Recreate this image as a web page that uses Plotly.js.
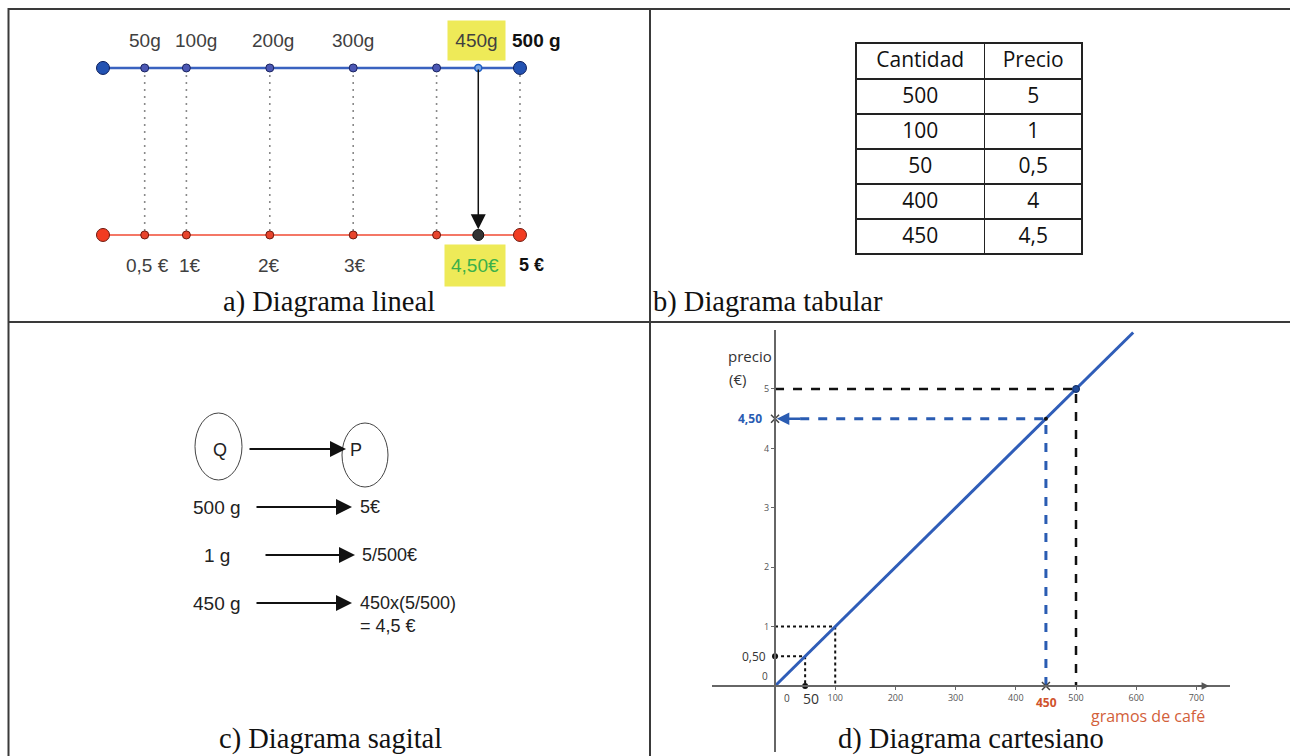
<!DOCTYPE html>
<html><head><meta charset="utf-8">
<script src="https://cdn.plot.ly/plotly-3.0.1.min.js"></script>
<style>html,body{margin:0;padding:0;background:#fff}#c{width:1290px;height:756px}</style>
</head><body><div id="c"></div>
<script>
// ---------- Data ----------
// a) Diagrama lineal
const gramPoints = [0, 50, 100, 200, 300, 400, 450, 500];
const gramMidPoints = [50, 100, 200, 300, 400];
const gramEnds = [0, 500];
const guideGrams = [50, 100, 200, 300, 400, 500];
const gramLabelPos = [50, 100, 200, 300, 450, 500];
const gramLabels = ["50g", "100g", "200g", "300g", "450g", "500 g"];
const euroLabels = ["0,5 €", "1€", "2€", "3€", "4,50€", "5 €"];
const targetGrams = 450;

// b) Diagrama tabular
const tableHeader = ["Cantidad", "Precio"];
const tableCantidad = ["500", "100", "50", "400", "450"];
const tablePrecio = ["5", "1", "0,5", "4", "4,5"];

// c) Diagrama sagital
const sagLeft = ["500 g", "1 g", "450 g"];
const sagRight = ["5€", "5/500€", "450x(5/500)<br>= 4,5 €"];

// d) Diagrama cartesiano
const lineGrams = [0, 595];
const linePrecio = [0, 5.95];
const xTicks = [100, 200, 300, 400, 500, 600, 700];
const yTicks = [1, 2, 3, 4, 5];
const guideSmall = [[50, 0.5], [100, 1]];
const guideBlack = [500, 5];
const guideBlue = [450, 4.5];

const captions = ["a) Diagrama lineal", "b) Diagrama tabular", "c) Diagrama sagital", "d) Diagrama cartesiano"];

// ---------- helpers ----------
const W = 1290, H = 756;
const px = v => v / W, py = v => 1 - v / H;
const traces = [];
const annotations = [];
const shapes = [];
const aFont = 'Liberation Sans, Arial';

// ---------- panel a ----------
traces.push({x: [gramEnds[0], gramEnds[1]], y: [1, 1], mode: 'lines', line: {color: '#3a62c0', width: 2.5}, xaxis: 'x', yaxis: 'y', hoverinfo: 'skip'});
traces.push({x: [gramEnds[0], gramEnds[1]], y: [0, 0], mode: 'lines', line: {color: '#f04a33', width: 1.5}, xaxis: 'x', yaxis: 'y', hoverinfo: 'skip'});
const gx = [], gy = [];
guideGrams.forEach(g => { gx.push(g, g, null); gy.push(1, 0, null); });
traces.push({x: gx, y: gy, mode: 'lines', line: {color: '#8a8a8a', width: 1.6, dash: '2px,5px'}, xaxis: 'x', yaxis: 'y', hoverinfo: 'skip'});
traces.push({x: gramMidPoints, y: gramMidPoints.map(() => 1), mode: 'markers', marker: {size: 8, color: '#4c58b4', line: {color: '#1b2460', width: 1}}, xaxis: 'x', yaxis: 'y'});
traces.push({x: gramEnds, y: [1, 1], mode: 'markers', marker: {size: 13, color: '#2352b2', line: {color: '#0c1e5c', width: 1}}, xaxis: 'x', yaxis: 'y'});
traces.push({x: [targetGrams], y: [1], mode: 'markers', marker: {size: 7, color: '#7aa6e6', line: {color: '#1f5fc4', width: 1.5}}, xaxis: 'x', yaxis: 'y'});
traces.push({x: gramMidPoints, y: gramMidPoints.map(() => 0), mode: 'markers', marker: {size: 8, color: '#e8442c', line: {color: '#6e1a10', width: 1}}, xaxis: 'x', yaxis: 'y'});
traces.push({x: gramEnds, y: [0, 0], mode: 'markers', marker: {size: 13, color: '#f23c22', line: {color: '#6e1a10', width: 1}}, xaxis: 'x', yaxis: 'y'});
traces.push({x: [targetGrams], y: [0], mode: 'markers', marker: {size: 11, color: '#333333', line: {color: '#111', width: 1}}, xaxis: 'x', yaxis: 'y'});

annotations.push({x: targetGrams, y: 0.035, ax: targetGrams, ay: 1, xref: 'x', yref: 'y', axref: 'x', ayref: 'y', showarrow: true, arrowhead: 2, arrowsize: 2, arrowwidth: 1.5, arrowcolor: '#111', text: ''});

const topShift = [0, 10, 3, 0, -2, 17];
const botShift = [3, 4, -1, 2, -3, 12];
gramLabelPos.forEach((g, i) => {
  const last = i === gramLabels.length - 1;
  const hl = g === targetGrams;
  const a = {x: g, y: 1.165, xref: 'x', yref: 'y', showarrow: false, text: last ? '<b>' + gramLabels[i] + '</b>' : gramLabels[i], xshift: topShift[i],
    font: {family: aFont, size: 19, color: last ? '#111' : '#404040'}};
  if (hl) { a.bgcolor = '#eeea58'; a.width = 55; a.height = 37; }
  annotations.push(a);
  const b = {x: g, y: -0.18, xref: 'x', yref: 'y', showarrow: false, text: last ? '<b>' + euroLabels[i] + '</b>' : euroLabels[i], xshift: botShift[i],
    font: {family: aFont, size: last ? 18 : 19, color: last ? '#111' : (hl ? '#3bb04a' : '#404040')}};
  if (hl) { b.bgcolor = '#eeea58'; b.width = 58; b.height = 39; }
  annotations.push(b);
});

// ---------- panel b ----------
traces.push({type: 'table', domain: {x: [px(856), px(1083)], y: [py(257), py(43)]},
  columnwidth: [129, 98],
  header: {values: tableHeader, height: 36, align: 'center', line: {color: '#222', width: 1.5}, fill: {color: '#fff'}, font: {family: 'Open Sans', size: 21, color: '#111'}},
  cells: {values: [tableCantidad, tablePrecio], height: 35, align: 'center', line: {color: '#222', width: 1.5}, fill: {color: '#fff'}, font: {family: 'Open Sans', size: 21, color: '#111'}}
});

// ---------- panel c ----------
shapes.push({type: 'circle', xref: 'x3', yref: 'y3', x0: 195, x1: 242, y0: 413, y1: 480, line: {color: '#444', width: 1}});
shapes.push({type: 'circle', xref: 'x3', yref: 'y3', x0: 342, x1: 388, y0: 423, y1: 487, line: {color: '#444', width: 1}});
annotations.push({x: 220, y: 450, xref: 'x3', yref: 'y3', text: 'Q', showarrow: false, font: {family: aFont, size: 18, color: '#222'}});
annotations.push({x: 356, y: 450, xref: 'x3', yref: 'y3', text: 'P', showarrow: false, font: {family: aFont, size: 18, color: '#222'}});
annotations.push({x: 346, y: 449, ax: 248, ay: 449, xref: 'x3', yref: 'y3', axref: 'x3', ayref: 'y3', text: '', showarrow: true, arrowhead: 2, arrowsize: 1.6, arrowwidth: 2, arrowcolor: '#111'});
const sagY = [507, 555, 603];
const sagArrowStart = [255, 264, 255];
const sagArrowEnd = [352, 355, 352];
const sagRightX = [358, 360, 358];
sagLeft.forEach((t, i) => {
  annotations.push({x: 217, y: sagY[i], xref: 'x3', yref: 'y3', text: t, showarrow: false, font: {family: aFont, size: 19, color: '#222'}});
  annotations.push({x: sagArrowEnd[i], y: sagY[i], ax: sagArrowStart[i], ay: sagY[i], xref: 'x3', yref: 'y3', axref: 'x3', ayref: 'y3', text: '', showarrow: true, arrowhead: 2, arrowsize: 1.6, arrowwidth: 2, arrowcolor: '#111'});
  annotations.push({x: sagRightX[i], y: sagY[i] - 12, xref: 'x3', yref: 'y3', xanchor: 'left', yanchor: 'top', align: 'left', text: sagRight[i], showarrow: false, font: {family: aFont, size: 18, color: '#222'}});
});

// ---------- panel d ----------
guideSmall.forEach(p => {
  traces.push({x: [0, p[0], p[0]], y: [p[1], p[1], 0], mode: 'lines', line: {color: '#111', width: 2, dash: 'dot'}, xaxis: 'x2', yaxis: 'y2', hoverinfo: 'skip'});
});
traces.push({x: [0, guideBlack[0], guideBlack[0]], y: [guideBlack[1], guideBlack[1], 0], mode: 'lines', line: {color: '#111', width: 2.5, dash: 'dash'}, xaxis: 'x2', yaxis: 'y2', hoverinfo: 'skip'});
traces.push({x: [guideBlue[0], guideBlue[0], 35], y: [0, guideBlue[1], guideBlue[1]], mode: 'lines', line: {color: '#2a5cb2', width: 3, dash: 'dash'}, xaxis: 'x2', yaxis: 'y2', hoverinfo: 'skip'});
traces.push({x: lineGrams, y: linePrecio, mode: 'lines', line: {color: '#2f5db8', width: 3}, xaxis: 'x2', yaxis: 'y2', hoverinfo: 'skip'});
annotations.push({x: 3, y: guideBlue[1], ax: 45, ay: guideBlue[1], xref: 'x2', yref: 'y2', axref: 'x2', ayref: 'y2', text: '', showarrow: true, arrowhead: 2, arrowsize: 1, arrowwidth: 2.5, arrowcolor: '#2a5cb2'});
traces.push({x: [0, guideBlue[0]], y: [guideBlue[1], 0], mode: 'markers', marker: {symbol: 'x-thin', size: 8, line: {color: '#444', width: 1.5}}, xaxis: 'x2', yaxis: 'y2'});
traces.push({x: [0, guideSmall[0][0]], y: [guideSmall[0][1], 0], mode: 'markers', marker: {size: 6, color: '#111'}, xaxis: 'x2', yaxis: 'y2'});
traces.push({x: [guideBlack[0]], y: [guideBlack[1]], mode: 'markers', marker: {size: 7, color: '#1f4a9a', line: {color: '#0e2a60', width: 1}}, xaxis: 'x2', yaxis: 'y2'});
traces.push({x: [guideBlue[0]], y: [guideBlue[1]], mode: 'markers', marker: {size: 4, color: '#111'}, xaxis: 'x2', yaxis: 'y2'});
annotations.push({x: 721, y: 0, ax: 700, ay: 0, xref: 'x2', yref: 'y2', axref: 'x2', ayref: 'y2', text: '', showarrow: true, arrowhead: 2, arrowsize: 1, arrowwidth: 1.5, arrowcolor: '#555'});

const dFont = 'Open Sans, Liberation Sans';
annotations.push({x: -41, y: 5.55, xref: 'x2', yref: 'y2', text: 'precio', showarrow: false, font: {family: dFont, size: 15, color: '#333'}});
annotations.push({x: -63, y: 5.17, xref: 'x2', yref: 'y2', text: '(€)', showarrow: false, font: {family: dFont, size: 15, color: '#333'}});
annotations.push({x: 0, y: guideBlue[1], xref: 'x2', yref: 'y2', xanchor: 'right', xshift: -11, text: '<b>4,50</b>', showarrow: false, font: {family: dFont, size: 12, color: '#2a5cb2'}});
annotations.push({x: 0, y: guideSmall[0][1], xref: 'x2', yref: 'y2', xanchor: 'right', xshift: -7, text: '0,50', showarrow: false, font: {family: dFont, size: 12, color: '#333'}});
annotations.push({x: 0, y: 0, xref: 'x2', yref: 'y2', xanchor: 'right', yanchor: 'bottom', xshift: -5, yshift: 1, text: '0', showarrow: false, font: {family: dFont, size: 10, color: '#444'}});
annotations.push({x: 0, y: 0, xref: 'x2', yref: 'y2', xanchor: 'center', yanchor: 'top', xshift: 12, yshift: -3, text: '0', showarrow: false, font: {family: dFont, size: 10, color: '#444'}});
annotations.push({x: guideSmall[0][0], y: 0, xref: 'x2', yref: 'y2', yanchor: 'top', xshift: 6, yshift: -1, text: '50', showarrow: false, font: {family: dFont, size: 14, color: '#333'}});
annotations.push({x: guideBlue[0], y: 0, xref: 'x2', yref: 'y2', yanchor: 'top', xshift: 1, yshift: -6, text: '<b>450</b>', showarrow: false, font: {family: dFont, size: 12, color: '#d0532c'}});
annotations.push({x: 620, y: -0.5, xref: 'x2', yref: 'y2', text: 'gramos de café', showarrow: false, borderpad: 0, font: {family: dFont, size: 16, color: '#d2603a'}});

// ---------- captions ----------
const capPos = [[329, 302, 'center'], [652, 302, 'left'], [330, 739, 'center'], [971, 739, 'center']];
captions.forEach((t, i) => {
  annotations.push({x: px(capPos[i][0]), y: py(capPos[i][1]), xref: 'paper', yref: 'paper', xanchor: capPos[i][2], yanchor: 'middle', borderpad: 0, text: t, showarrow: false, font: {family: 'Liberation Serif, Times New Roman', size: 28.5, color: '#111'}});
});

// ---------- borders ----------
const bc = '#3a3a3a';
shapes.push({type: 'line', xref: 'paper', yref: 'paper', x0: px(8), x1: 1, y0: py(9), y1: py(9), line: {color: bc, width: 2}});
shapes.push({type: 'line', xref: 'paper', yref: 'paper', x0: px(8.5), x1: px(8.5), y0: 0, y1: py(8), line: {color: bc, width: 2}});
shapes.push({type: 'line', xref: 'paper', yref: 'paper', x0: px(650), x1: px(650), y0: 0, y1: py(8), line: {color: bc, width: 2}});
shapes.push({type: 'line', xref: 'paper', yref: 'paper', x0: px(8), x1: 1, y0: py(322), y1: py(322), line: {color: bc, width: 2}});

const hidden = {visible: false, fixedrange: true, showgrid: false, zeroline: false};
const layout = {
  width: W, height: H, margin: {l: 0, r: 0, t: 0, b: 0}, showlegend: false,
  paper_bgcolor: '#fff', plot_bgcolor: 'rgba(0,0,0,0)',
  xaxis: Object.assign({domain: [px(8), px(650)], range: [-113.9, 655.9]}, hidden),
  yaxis: Object.assign({domain: [py(322), py(8)], range: [-0.521, 1.359]}, hidden),
  xaxis3: Object.assign({domain: [px(8), px(650)], range: [8, 650]}, hidden),
  yaxis3: Object.assign({domain: [0, py(322)], range: [756, 322]}, hidden),
  xaxis2: {domain: [px(712), px(1230)], range: [-104.7, 755.8], anchor: 'free', position: py(686),
    showline: true, linecolor: '#666', linewidth: 2, ticks: 'outside', ticklen: 3, tickcolor: '#666',
    tickvals: xTicks, tickfont: {family: dFont, size: 9, color: '#555'}, showgrid: false, zeroline: false, fixedrange: true},
  yaxis2: {domain: [py(752), py(330)], range: [-1.111, 5.993], anchor: 'free', position: px(775),
    showline: true, linecolor: '#666', linewidth: 2, ticks: 'outside', ticklen: 3, tickcolor: '#666',
    tickvals: yTicks, tickfont: {family: dFont, size: 9, color: '#555'}, showgrid: false, zeroline: false, fixedrange: true},
  annotations: annotations, shapes: shapes
};
Plotly.newPlot('c', traces, layout, {staticPlot: true, displayModeBar: false});
</script></body></html>
